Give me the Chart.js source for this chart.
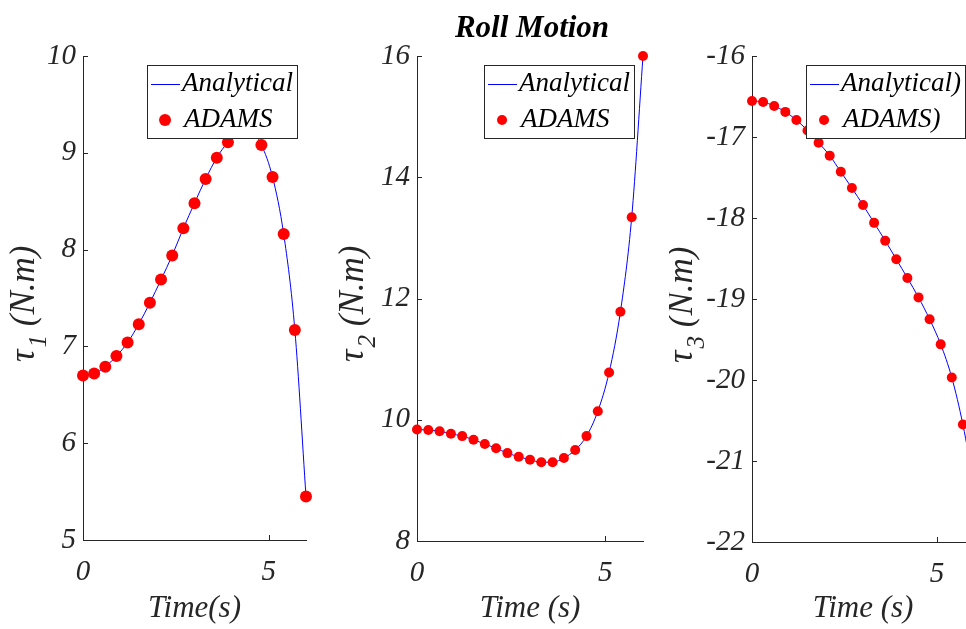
<!DOCTYPE html>
<html lang="en">
<head>
    <meta charset="UTF-8">
    <title>Roll Motion</title>
    <script src="https://cdn.jsdelivr.net/npm/chart.js"></script>
    <style>
        html, body { margin: 0; padding: 0; background: #fff; overflow: hidden; }
        body { width: 966px; height: 629px; position: relative; }
        canvas { position: absolute; top: 0; }
    </style>
</head>
<body>
    <canvas id="tau1Chart" width="330" height="629" style="left:0px"></canvas>
    <canvas id="tau2Chart" width="330" height="629" style="left:334px"></canvas>
    <canvas id="tau3Chart" width="325" height="629" style="left:669px"></canvas>

    <script>
        // sample times (s)
        const time = [0, 0.3, 0.6, 0.9, 1.2, 1.5, 1.8, 2.1, 2.4, 2.7, 3.0, 3.3, 3.6, 3.9, 4.2, 4.5, 4.8, 5.1, 5.4, 5.7, 6.0];

        // torques (N.m)
        const tau1 = [6.70, 6.72, 6.79, 6.90, 7.04, 7.23, 7.45, 7.69, 7.94, 8.22, 8.48, 8.73, 8.95, 9.11, 9.22, 9.23, 9.08, 8.75, 8.16, 7.17, 5.45];
        const tau2 = [9.84, 9.83, 9.81, 9.77, 9.73, 9.67, 9.60, 9.53, 9.45, 9.39, 9.34, 9.30, 9.30, 9.37, 9.50, 9.73, 10.14, 10.78, 11.78, 13.34, 16.00];
        const tau3 = [-16.556, -16.568, -16.617, -16.69, -16.79, -16.92, -17.07, -17.23, -17.43, -17.63, -17.84, -18.06, -18.28, -18.51, -18.74, -18.98, -19.25, -19.56, -19.97, -20.55, -21.3];

        // tick labels
        const xTicks = [0, 5];
        const tau1Ticks = [5, 6, 7, 8, 9, 10];
        const tau2Ticks = [8, 10, 12, 14, 16];
        const tau3Ticks = [-22, -21, -20, -19, -18, -17, -16];

        const names12 = ['Analytical', 'ADAMS'];
        const names3 = ['Analytical)', 'ADAMS)'];

        const ink = '#262626';
        const serif = '"Liberation Serif", "Times New Roman", serif';

        // MATLAB-ish extras: inward ticks, subscripted y label, boxed legend inside the axes, title
        const decor = {
            id: 'decor',
            afterDraw(chart, args, opts) {
                const ctx = chart.ctx;
                const a = chart.chartArea;
                const xs = chart.scales.x, ys = chart.scales.y;

                ctx.save();
                ctx.strokeStyle = ink;
                ctx.lineWidth = 1;
                ctx.beginPath();
                ys.ticks.forEach(t => {
                    const py = Math.round(ys.getPixelForValue(t.value)) + 0.5;
                    ctx.moveTo(a.left, py);
                    ctx.lineTo(a.left + 5, py);
                });
                xs.ticks.forEach(t => {
                    const px = Math.round(xs.getPixelForValue(t.value)) + 0.5;
                    ctx.moveTo(px, a.bottom);
                    ctx.lineTo(px, a.bottom - 5);
                });
                ctx.stroke();
                ctx.restore();

                // y label: tau with subscript
                ctx.save();
                ctx.translate(opts.labelX, opts.labelY);
                ctx.rotate(-Math.PI / 2);
                ctx.fillStyle = ink;
                ctx.textBaseline = 'alphabetic';
                ctx.textAlign = 'left';
                ctx.font = 'italic 35px ' + serif;
                ctx.fillText('τ', 0, 0);
                let w = ctx.measureText('τ').width + 2;
                ctx.font = 'italic 25px ' + serif;
                ctx.fillText(opts.sub, w, 12);
                w += ctx.measureText(opts.sub).width;
                ctx.font = 'italic 35px ' + serif;
                ctx.fillText(' (N.m)', w, 0);
                ctx.restore();

                // legend box
                const names = opts.names;
                ctx.save();
                ctx.font = 'italic 27px ' + serif;
                const tw = Math.max(...names.map(n => ctx.measureText(n).width));
                const bw = 35 + tw + 4, bh = 73;
                const bx = a.right - 9 - bw, by = a.top + 9;
                ctx.fillStyle = '#fff';
                ctx.fillRect(bx, by, bw, bh);
                ctx.strokeStyle = ink;
                ctx.lineWidth = 1;
                ctx.strokeRect(Math.round(bx) + 0.5, by + 0.5, Math.round(bw), bh);

                ctx.strokeStyle = '#0000ff';
                ctx.beginPath();
                ctx.moveTo(bx + 4, by + 19.5);
                ctx.lineTo(bx + 33, by + 19.5);
                ctx.stroke();

                ctx.fillStyle = '#ff0000';
                ctx.beginPath();
                ctx.arc(bx + 18, by + 55, opts.radius, 0, Math.PI * 2);
                ctx.fill();

                ctx.fillStyle = '#000';
                ctx.textBaseline = 'middle';
                ctx.fillText(names[0], bx + 35, by + 19);
                ctx.fillText(names[1], bx + 37, by + 55);
                ctx.restore();

                if (opts.title) {
                    ctx.save();
                    ctx.fillStyle = '#000';
                    ctx.font = 'italic bold 31px ' + serif;
                    ctx.textAlign = 'center';
                    ctx.textBaseline = 'alphabetic';
                    ctx.fillText(opts.title, opts.titleX, 37);
                    ctx.restore();
                }
            }
        };

        function makeChart(id, values, yTicks, names, xTitle, radius, pad, decorOpts) {
            const pts = time.map((t, i) => ({ x: t, y: values[i] }));
            return new Chart(document.getElementById(id), {
                type: 'scatter',
                data: {
                    datasets: [
                        {
                            label: names[0],
                            data: pts,
                            showLine: true,
                            borderColor: '#0000ff',
                            borderWidth: 1,
                            pointRadius: 0,
                            cubicInterpolationMode: 'monotone',
                            clip: false,
                            order: 2
                        },
                        {
                            label: names[1],
                            data: pts,
                            showLine: false,
                            pointRadius: radius,
                            pointBackgroundColor: '#ff0000',
                            pointBorderWidth: 0,
                            clip: false,
                            order: 1
                        }
                    ]
                },
                options: {
                    responsive: false,
                    animation: false,
                    layout: { padding: { top: 56, right: pad.right, left: 0, bottom: 0 } },
                    plugins: {
                        legend: { display: false },
                        tooltip: { enabled: false },
                        decor: Object.assign({ names: names, radius: radius }, decorOpts)
                    },
                    scales: {
                        x: {
                            type: 'linear',
                            min: 0,
                            max: 6,
                            afterBuildTicks: s => { s.ticks = xTicks.map(v => ({ value: v })); },
                            afterFit: s => { s.height = pad.bottom; },
                            grid: { display: false, drawTicks: false },
                            border: { display: true, color: ink, width: 1 },
                            ticks: {
                                color: ink,
                                padding: 15,
                                maxRotation: 0,
                                font: { family: serif, style: 'italic', size: 29 }
                            },
                            title: {
                                display: true,
                                text: xTitle,
                                color: ink,
                                padding: { top: 0, bottom: 2 },
                                font: { family: serif, style: 'italic', size: 31 }
                            }
                        },
                        y: {
                            type: 'linear',
                            min: yTicks[0],
                            max: yTicks[yTicks.length - 1],
                            afterBuildTicks: s => { s.ticks = yTicks.map(v => ({ value: v })); },
                            afterFit: s => { s.width = 83; },
                            grid: { display: false, drawTicks: false },
                            border: { display: true, color: ink, width: 1 },
                            ticks: {
                                color: ink,
                                padding: 7,
                                autoSkip: false,
                                font: { family: serif, style: 'italic', size: 29 }
                            }
                        }
                    }
                },
                plugins: [decor]
            });
        }

        makeChart('tau1Chart', tau1, tau1Ticks, names12, 'Time(s)', 6,
            { right: 24, bottom: 89 }, { sub: '1', labelX: 34, labelY: 362 });
        makeChart('tau2Chart', tau2, tau2Ticks, names12, 'Time (s)', 5,
            { right: 21, bottom: 88 }, { sub: '2', labelX: 29, labelY: 362, title: 'Roll Motion', titleX: 198 });
        makeChart('tau3Chart', tau3, tau3Ticks, names3, 'Time (s)', 5,
            { right: 20, bottom: 87 }, { sub: '3', labelX: 23, labelY: 363 });
    </script>
</body>
</html>
